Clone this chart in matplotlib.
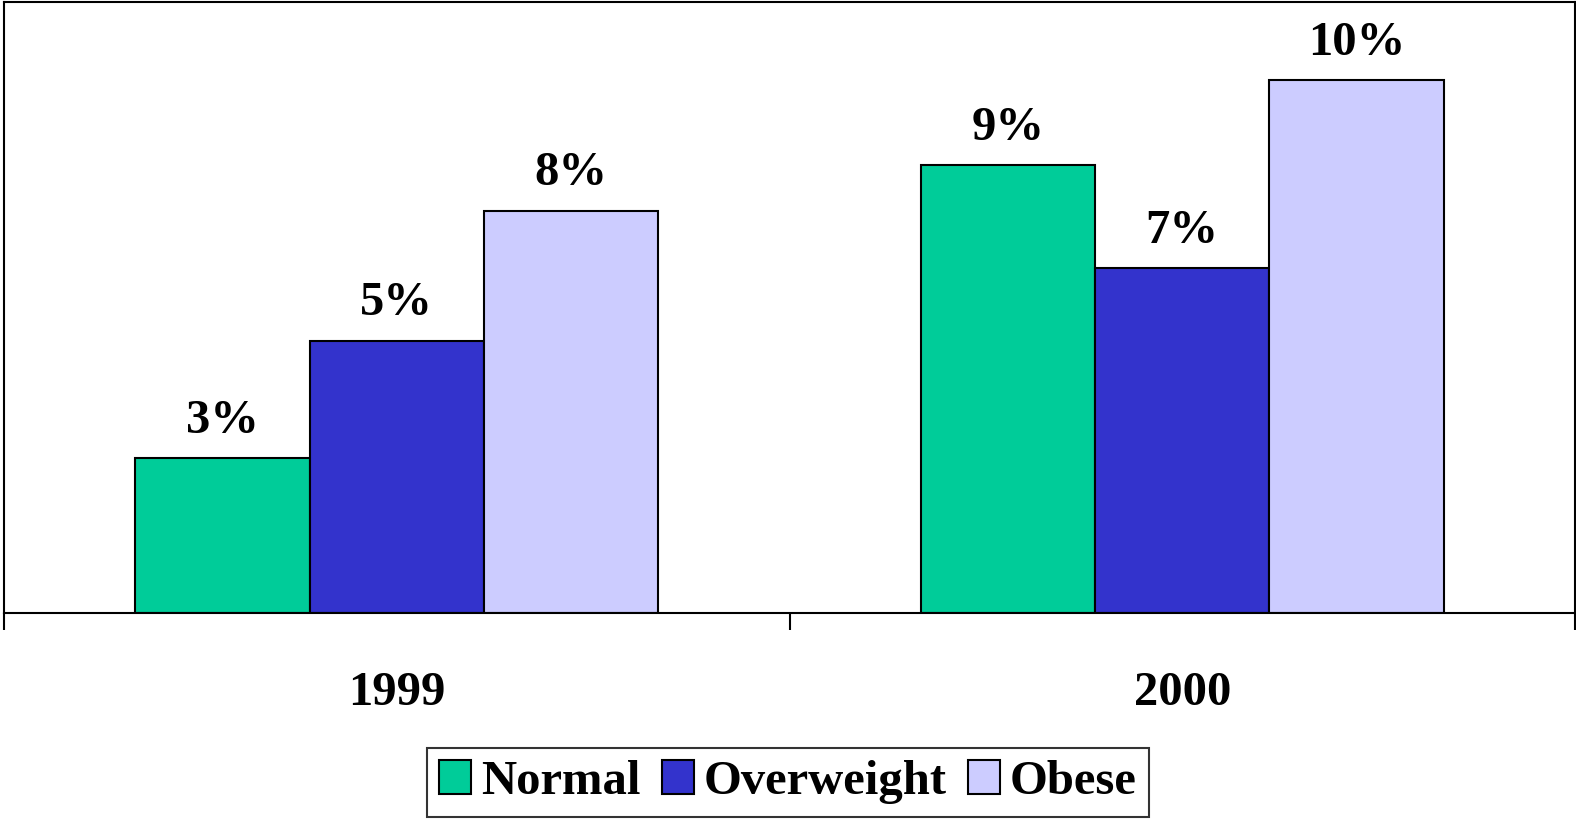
import matplotlib.pyplot as plt
import numpy as np

# datos
anios = ["1999", "2000"]
series = ["Normal", "Overweight", "Obese"]
normal = [3.04, 8.79]
sobrepeso = [5.35, 6.77]
obeso = [7.9, 10.46]
etiquetas = [["3%", "9%"], ["5%", "7%"], ["8%", "10%"]]
colores = ["#00CC99", "#3333CC", "#CCCCFF"]

plt.rcParams['font.family'] = ['Liberation Serif', 'DejaVu Serif']
plt.rcParams['font.weight'] = 'bold'

fig = plt.figure(figsize=(15.76, 8.19), dpi=100)
ax = fig.add_axes([4 / 1576, 1 - 613 / 819, 1571 / 1576, 611 / 819])

x = np.arange(len(anios))
ancho = 0.222
valores = [normal, sobrepeso, obeso]
for i, (nombre, vals) in enumerate(zip(series, valores)):
    pos = x + (i - 1) * ancho
    barras = ax.bar(pos, vals, ancho, color=colores[i], edgecolor='black',
                    linewidth=1.5, label=nombre)
    for b, txt in zip(barras, etiquetas[i]):
        ax.annotate(txt, (b.get_x() + b.get_width() / 2, b.get_height()),
                    xytext=(0, 11), textcoords='offset points',
                    ha='center', va='bottom', fontsize=35, fontweight='bold')

ax.set_xlim(-0.5, 1.5)
ax.set_ylim(0, 12)
ax.set_yticks([])
ax.set_xticks(x)
ax.set_xticklabels(anios, fontsize=35, fontweight='bold')
ax.tick_params(axis='x', which='major', length=0, pad=42)
ax.set_xticks([-0.5, 0.5, 1.5], minor=True)
ax.tick_params(axis='x', which='minor', length=12, width=1.5, direction='out')
for s in ax.spines.values():
    s.set_linewidth(1.5)
    s.set_color('black')

leg = fig.legend(loc='lower center', bbox_to_anchor=(0.5, 0.0), ncol=3,
                 prop={'size': 35, 'weight': 'bold'}, frameon=True, fancybox=False,
                 handlelength=0.65, handleheight=0.7, handletextpad=0.2,
                 columnspacing=0.45, borderpad=0.25, borderaxespad=0.05)
leg.get_frame().set_edgecolor('black')
leg.get_frame().set_linewidth(1.5)

fig.savefig("out.png", dpi=100)
